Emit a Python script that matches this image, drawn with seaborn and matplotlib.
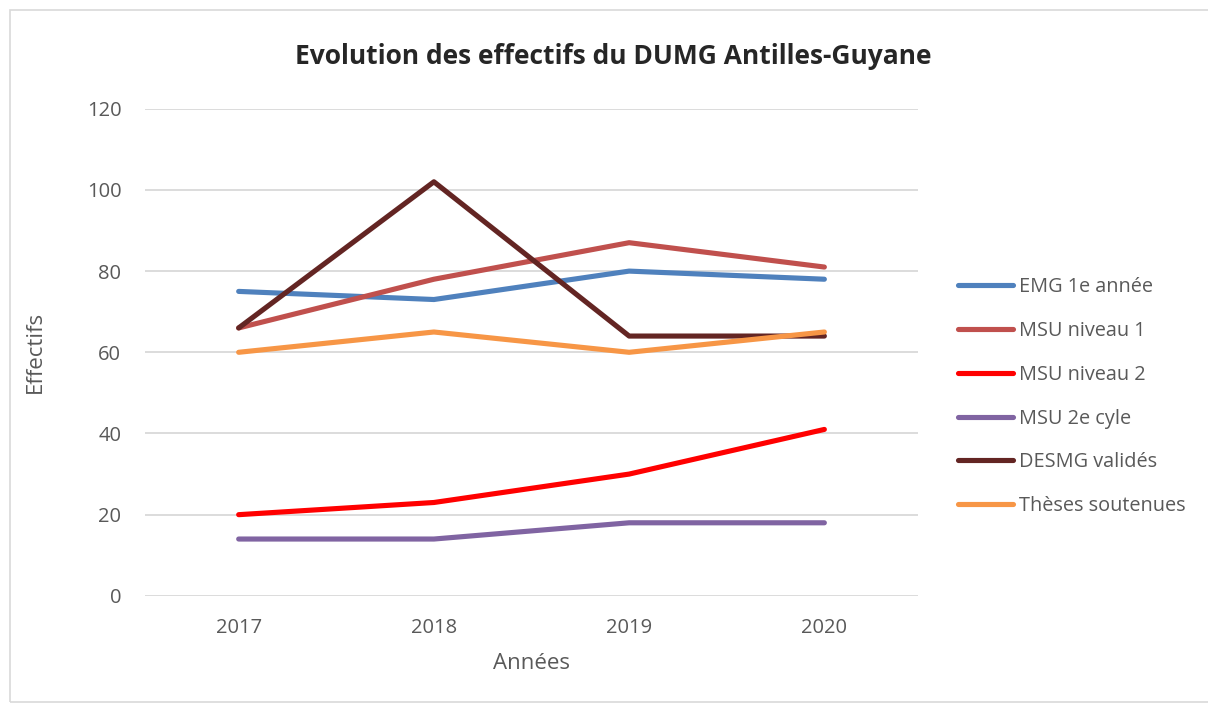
import pandas as pd
import matplotlib.pyplot as plt
import seaborn as sns
from matplotlib.patches import Rectangle

# data
annees = [2017, 2018, 2019, 2020]
emg_1e_annee = [75, 73, 80, 78]
msu_niveau_1 = [66, 78, 87, 81]
msu_niveau_2 = [20, 23, 30, 41]
msu_2e_cyle = [14, 14, 18, 18]
desmg_valides = [66, 102, 64, 64]
theses_soutenues = [60, 65, 60, 65]

series = {
    "EMG 1e année": emg_1e_annee,
    "MSU niveau 1": msu_niveau_1,
    "MSU niveau 2": msu_niveau_2,
    "MSU 2e cyle": msu_2e_cyle,
    "DESMG validés": desmg_valides,
    "Thèses soutenues": theses_soutenues,
}
couleurs = ["#4F81BD", "#C0504D", "#FF0000", "#8064A2", "#632523", "#F79646"]

# long format for seaborn
rows = []
for nom, vals in series.items():
    for a, v in zip(annees, vals):
        rows.append({"Années": a, "Effectifs": v, "serie": nom})
df = pd.DataFrame(rows)

sns.set_style("white")
plt.rcParams["font.family"] = ["Open Sans", "DejaVu Sans"]

fig = plt.figure(figsize=(12.08, 7.06), dpi=100)
ax = fig.add_axes([0.120, 0.156, 0.640, 0.690])

sns.lineplot(data=df, x="Années", y="Effectifs", hue="serie",
             palette=couleurs, linewidth=3.7, ax=ax, legend=True,
             solid_capstyle="round")

ax.set_xlim(2016.52, 2020.48)
ax.set_ylim(0, 120)
ax.set_yticks(range(0, 121, 20))
ax.set_xticks(annees)
ax.tick_params(axis="both", length=0, labelsize=14.5, colors="#595959")
ax.tick_params(axis="y", pad=17)
ax.tick_params(axis="x", pad=16)
ax.yaxis.grid(True, color="#D9D9D9", linewidth=1.3)
ax.set_axisbelow(True)
for s in ax.spines.values():
    s.set_visible(False)

ax.set_xlabel("Années", fontsize=16, color="#595959")
ax.set_ylabel("Effectifs", fontsize=16, color="#595959")
ax.xaxis.set_label_coords(0.5, -0.118)
ax.yaxis.set_label_coords(-0.128, 0.5)

fig.text(0.508, (706 - 57) / 706, "Evolution des effectifs du DUMG Antilles-Guyane",
         fontsize=19, fontweight="bold", color="#262626",
         ha="center", va="center")

leg = ax.legend(loc="center left", bbox_to_anchor=(1.029, 0.409), frameon=False,
                fontsize=14.3, handlelength=2.75, handletextpad=0.3,
                labelspacing=1.2)
for t in leg.get_texts():
    t.set_color("#595959")
for l in leg.get_lines():
    l.set_linewidth(3.7)

# light frame around the chart area
fig.patches.append(Rectangle((10 / 1208, 4 / 706), 1.2, 692 / 706,
                             transform=fig.transFigure, fill=False,
                             edgecolor="#D9D9D9", linewidth=1.2))

fig.savefig("out.png", dpi=100)
